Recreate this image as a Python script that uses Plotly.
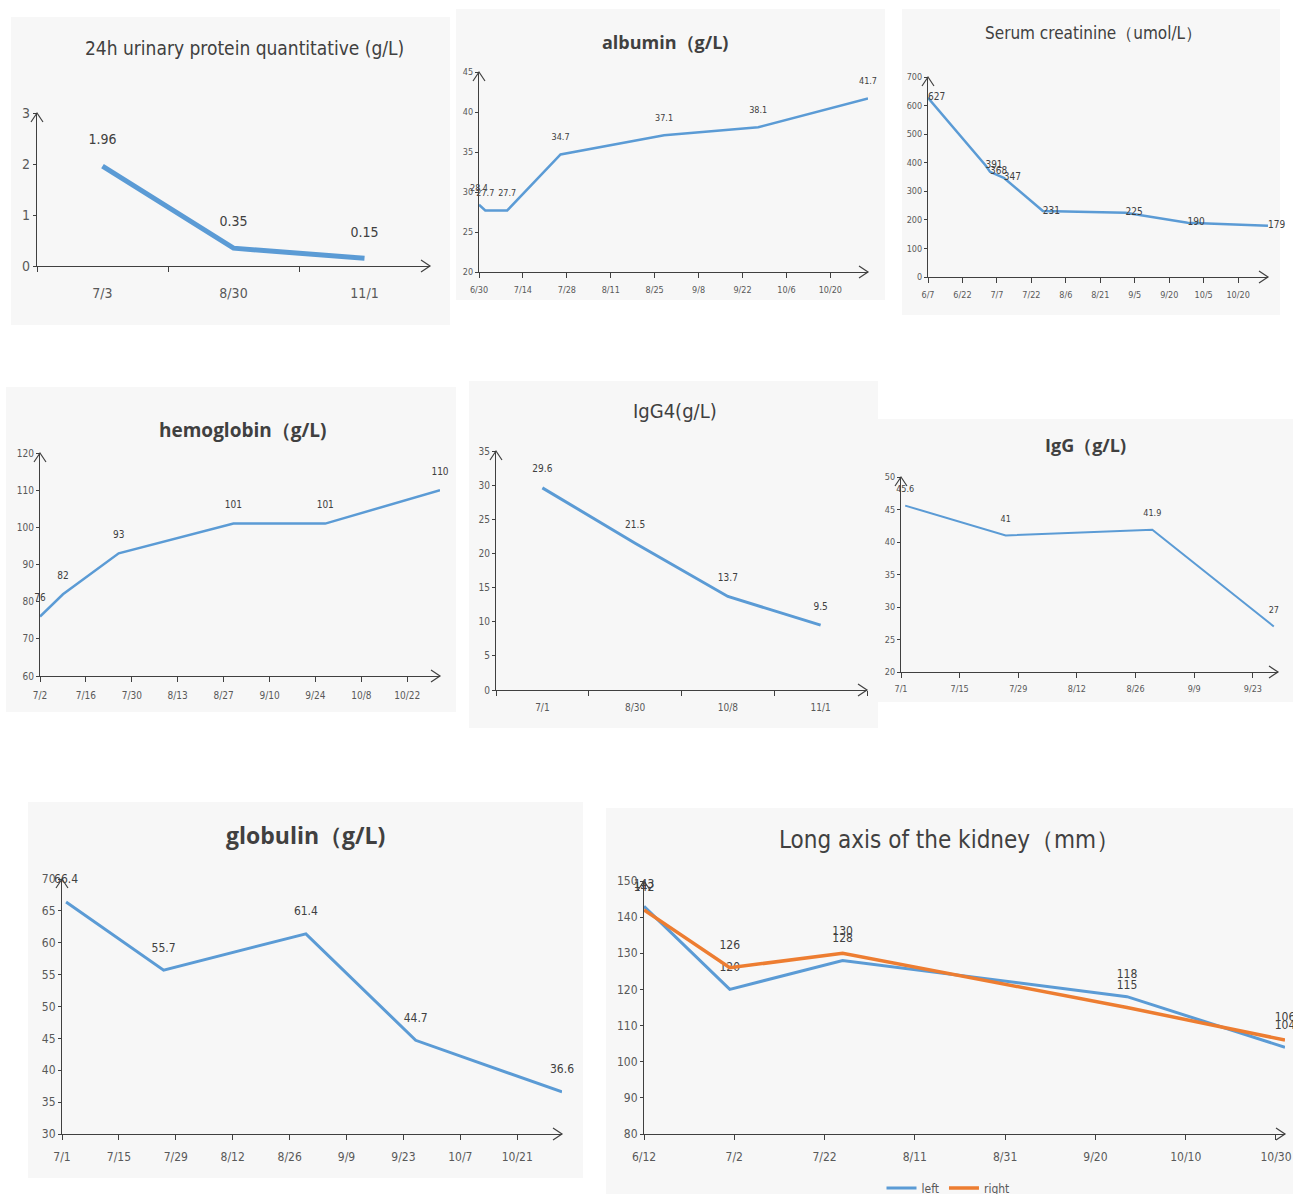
import plotly.graph_objects as go

W, H = 1293, 1194
BLUE = "#5B9BD5"
ORANGE = "#ED7D31"
AXC = "#404040"
TXT = "#595959"
BG = "#F7F7F7"
FONT = "Liberation Sans Narrow, DejaVu Sans Condensed, Roboto, sans-serif"
BFONT = "Open Sans, Noto Sans, sans-serif"

# ---------------- data ----------------
uprot_cat = ["7/3", "8/30", "11/1"]
uprot_val = [1.96, 0.35, 0.15]

alb_dates = ["2020-06-30", "2020-07-02", "2020-07-09", "2020-07-26", "2020-08-28", "2020-09-27", "2020-11-01"]
alb_val = [28.4, 27.7, 27.7, 34.7, 37.1, 38.1, 41.7]

scr_dates = ["2020-06-07", "2020-07-02", "2020-07-04", "2020-07-10", "2020-07-27", "2020-09-01", "2020-09-28", "2020-11-02"]
scr_val = [627, 391, 368, 347, 231, 225, 190, 179]

hb_dates = ["2020-07-02", "2020-07-09", "2020-07-26", "2020-08-30", "2020-09-27", "2020-11-01"]
hb_val = [76, 82, 93, 101, 101, 110]

igg4_cat = ["7/1", "8/30", "10/8", "11/1"]
igg4_val = [29.6, 21.5, 13.7, 9.5]

igg_dates = ["2020-07-02", "2020-07-26", "2020-08-30", "2020-09-28"]
igg_val = [45.6, 41, 41.9, 27]

glob_dates = ["2020-07-02", "2020-07-26", "2020-08-30", "2020-09-26", "2020-11-01"]
glob_val = [66.4, 55.7, 61.4, 44.7, 36.6]

kid_dates = ["2020-06-12", "2020-07-01", "2020-07-26", "2020-09-27", "2020-11-01"]
kid_left = [143, 120, 128, 118, 104]
kid_right = [142, 126, 130, 115, 106]

# ---------------- panel layout (pixels) ----------------
panels = [
    dict(bg=(11, 17, 450, 325), area=(37, 430, 113, 266), title="24h urinary protein quantitative (g/L)",
         tpos=(245, 48), tsize=19, tfam=FONT, tw="normal", tick=14, lab=14, stand=14),
    dict(bg=(456, 9, 885, 300), area=(479, 868, 72, 272), title="albumin（g/L)",
         tpos=(665, 42), tsize=18, tfam=BFONT, tw="bold", tick=9, lab=9, stand=4),
    dict(bg=(902, 9, 1280, 315), area=(928, 1268, 77, 277), title="Serum creatinine（umol/L）",
         tpos=(1093, 33), tsize=17, tfam=FONT, tw="normal", tick=9, lab=10, stand=4),
    dict(bg=(6, 387, 456, 712), area=(40, 440, 453, 676), title="hemoglobin（g/L)",
         tpos=(243, 430), tsize=19, tfam=BFONT, tw="bold", tick=10, lab=10, stand=5),
    dict(bg=(469, 381, 878, 728), area=(496, 867, 451, 690), title="IgG4(g/L)",
         tpos=(675, 411), tsize=20, tfam=FONT, tw="normal", tick=10, lab=10, stand=8),
    dict(bg=(878, 419, 1293, 702), area=(901, 1278, 477, 672), title="IgG（g/L)",
         tpos=(1085, 445), tsize=18, tfam=BFONT, tw="bold", tick=9, lab=9, stand=3),
    dict(bg=(28, 802, 583, 1178), area=(62, 562, 879, 1134), title="globulin（g/L)",
         tpos=(305, 835), tsize=23, tfam=BFONT, tw="bold", tick=12, lab=12, stand=6),
    dict(bg=(606, 808, 1293, 1194), area=(644, 1285, 881, 1134), title="Long axis of the kidney（mm）",
         tpos=(949, 840), tsize=24, tfam=FONT, tw="normal", tick=12, lab=12, stand=6),
]

axes_cfg = [
    dict(xtype="category", xrange=[-0.5, 2.5], yrange=[0, 3], ydtick=1),
    dict(xtype="date", xrange=["2020-06-30", "2020-11-01"], yrange=[20, 45], ydtick=5, tick0="2020-06-30", days=14),
    dict(xtype="date", xrange=["2020-06-07", "2020-11-02"], yrange=[0, 700], ydtick=100, tick0="2020-06-07", days=15),
    dict(xtype="date", xrange=["2020-07-02", "2020-11-01"], yrange=[60, 120], ydtick=10, tick0="2020-07-02", days=14),
    dict(xtype="category", xrange=[-0.5, 3.5], yrange=[0, 35], ydtick=5),
    dict(xtype="date", xrange=["2020-07-01", "2020-09-29"], yrange=[20, 50], ydtick=5, tick0="2020-07-01", days=14),
    dict(xtype="date", xrange=["2020-07-01", "2020-11-01"], yrange=[30, 70], ydtick=5, tick0="2020-07-01", days=14),
    dict(xtype="date", xrange=["2020-06-12", "2020-11-01"], yrange=[80, 150], ydtick=10, tick0="2020-06-12", days=20),
]

fig = go.Figure()

def ax_id(i):
    return "" if i == 1 else str(i)

def line_trace(i, x, y, color, width, textpos, lift=True, name=None, show=False):
    p = panels[i - 1]
    txt = [str(v) + ("<br> " if lift else "") for v in y]
    fig.add_trace(go.Scatter(
        x=x, y=y, mode="lines+text", text=txt, textposition=textpos,
        textfont=dict(family=FONT, size=p["lab"], color=AXC),
        line=dict(color=color, width=width), name=name or "", showlegend=show,
        xaxis="x" + ax_id(i), yaxis="y" + ax_id(i), cliponaxis=False, hoverinfo="x+y"))

line_trace(1, uprot_cat, uprot_val, BLUE, 5, "top center")
line_trace(2, alb_dates, alb_val, BLUE, 2.5, "top center")
line_trace(3, scr_dates, scr_val, BLUE, 2.5, "middle right", lift=False)
line_trace(4, hb_dates, hb_val, BLUE, 2.5, "top center")
line_trace(5, igg4_cat, igg4_val, BLUE, 3, "top center")
line_trace(6, igg_dates, igg_val, BLUE, 2, "top center")
line_trace(7, glob_dates, glob_val, BLUE, 3, "top center")
line_trace(8, kid_dates, kid_left, BLUE, 3, "top center", name="left", show=True)
line_trace(8, kid_dates, kid_right, ORANGE, 3.5, "top center", name="right", show=True)

layout = dict(
    width=W, height=H, margin=dict(l=0, r=0, t=0, b=0, autoexpand=False),
    paper_bgcolor="white", plot_bgcolor="rgba(0,0,0,0)",
    showlegend=True,
    legend=dict(orientation="h", x=948 / W, y=1 - 1188 / H, xanchor="center", yanchor="middle",
                font=dict(family=FONT, size=12, color=TXT), bgcolor="rgba(0,0,0,0)",
                itemwidth=30, tracegroupgap=0),
)
shapes = []
annotations = []

for i, (p, c) in enumerate(zip(panels, axes_cfg), start=1):
    bx0, by0, bx1, by1 = p["bg"]
    shapes.append(dict(type="rect", xref="paper", yref="paper", layer="below",
                       x0=bx0 / W, x1=bx1 / W, y0=1 - by1 / H, y1=1 - by0 / H,
                       fillcolor=BG, line=dict(width=0)))
    ax0, ax1, ayt, ayb = p["area"]
    xa = dict(domain=[ax0 / W, ax1 / W], anchor="y" + ax_id(i), showline=True, linecolor=AXC,
              linewidth=1.2, ticks="outside", ticklen=5, tickcolor=AXC, showgrid=False, zeroline=False,
              tickfont=dict(family=FONT, size=p["tick"], color=TXT), range=c["xrange"], fixedrange=True,
              automargin=False, ticklabelstandoff=p["stand"])
    if c["xtype"] == "category":
        xa.update(type="category", tickson="boundaries")
    else:
        xa.update(type="date", tick0=c["tick0"], dtick=86400000 * c["days"], tickformat="%-m/%-d")
    ya = dict(domain=[1 - ayb / H, 1 - ayt / H], anchor="x" + ax_id(i), showline=True, linecolor=AXC,
              linewidth=1.2, ticks="outside", ticklen=3, tickcolor=AXC, showgrid=False, zeroline=False,
              tickfont=dict(family=FONT, size=p["tick"], color=TXT), range=c["yrange"], dtick=c["ydtick"],
              fixedrange=True, automargin=False)
    layout["xaxis" + ax_id(i)] = xa
    layout["yaxis" + ax_id(i)] = ya
    shapes.append(dict(type="path", xref="x" + ax_id(i) + " domain", yref="y" + ax_id(i) + " domain",
                       xsizemode="pixel", ysizemode="pixel", xanchor=1, yanchor=0,
                       path="M -9,-6 L 0,0 L -9,6", line=dict(color=AXC, width=1.2)))
    shapes.append(dict(type="path", xref="x" + ax_id(i) + " domain", yref="y" + ax_id(i) + " domain",
                       xsizemode="pixel", ysizemode="pixel", xanchor=0, yanchor=1,
                       path="M -6,-9 L 0,0 L 6,-9", line=dict(color=AXC, width=1.2)))
    tx, ty = p["tpos"]
    annotations.append(dict(text=p["title"], x=tx / W, y=1 - ty / H, xref="paper", yref="paper",
                            showarrow=False, xanchor="center", yanchor="middle",
                            font=dict(family=p["tfam"], size=p["tsize"], color=AXC, weight=p["tw"])))

layout["shapes"] = shapes
layout["annotations"] = annotations
fig.update_layout(**layout)
fig.write_html("out.html", config={"displayModeBar": False},
               post_script="document.body.style.margin='0';")
